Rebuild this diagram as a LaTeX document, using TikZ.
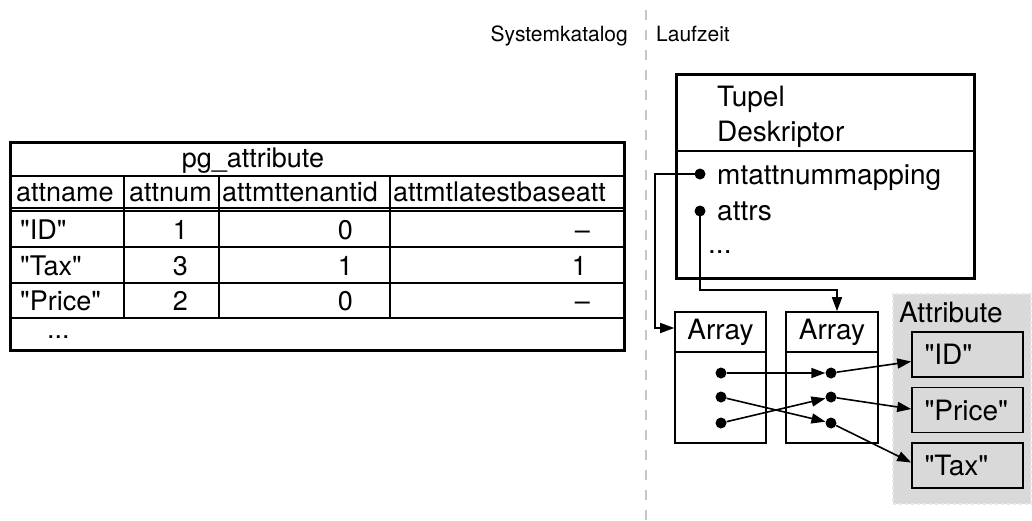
\documentclass[tikz,border=0pt]{standalone}
\usepackage{fontspec}
\newfontfamily\hv{TeX Gyre Heros}
\usetikzlibrary{arrows.meta}
\begin{document}
\begin{tikzpicture}[x=1pt,y=-1pt,
  tl/.style={line width=1.6pt},
  thick border/.style={line width=3pt},
  lbl/.style={inner sep=0pt,font=\hv\fontsize{21}{25}\selectfont},
  ttxt/.style={inner sep=0pt,font=\hv\fontsize{27}{31}\selectfont},
  dtxt/.style={inner sep=0pt,font=\hv\fontsize{28}{33}\selectfont},
  dot/.style={circle,fill=black,inner sep=0pt,minimum size=11pt},
  abox/.style={draw,tl,fill=white,inner sep=0pt,font=\hv\fontsize{28}{33}\selectfont},
  attrbox/.style={draw,tl,fill=gray!30,minimum width=111pt,minimum height=45pt,
    text width=86pt,inner xsep=12.5pt,inner ysep=0pt,align=left,
    font=\hv\fontsize{28}{33}\selectfont},
  panel/.style={fill=gray!30,draw=gray!18,line width=1.5pt,dashed,inner sep=0pt},
  arr/.style={tl,-{Triangle[length=14pt,width=10pt]}},
  ln/.style={tl}
]
\useasboundingbox (0,0) rectangle (1032,520);

% separator between catalogue and runtime
\draw[gray!45,line width=2pt,dash pattern=on 10pt off 10pt] (646,10) -- (646,520);
\node[lbl,anchor=base east] (sk) at (628,41) {Systemkatalog};
\node[lbl,anchor=base west] (lz) at (656,41) {Laufzeit};

% ---------- pg_attribute table ----------
\draw[tl] (10,176) -- (624,176);
\draw[tl] (10,208) -- (624,208);
\draw[tl] (10,211) -- (624,211);
\draw[tl] (10,247) -- (624,247);
\draw[tl] (10,283) -- (624,283);
\draw[tl] (10,318) -- (624,318);
\draw[tl] (124,176) -- (124,318);
\draw[tl] (219,176) -- (219,318);
\draw[tl] (390,176) -- (390,318);
\draw[thick border] (10,142) rectangle (624,350);

\node[ttxt,anchor=base] (title) at (253,167) {pg\_attribute};
\node[ttxt,anchor=base west] (h1) at (16,201) {attname};
\node[ttxt,anchor=base west] (h2) at (129,201) {attnum};
\node[ttxt,anchor=base west] (h3) at (222,201) {attmttenantid};
\node[ttxt,anchor=base west] (h4) at (393,201) {attmtlatestbaseatt};

\node[ttxt,anchor=base west] (r1a) at (20,239) {"ID"};
\node[ttxt,anchor=base east] (r1b) at (188,239) {1};
\node[ttxt,anchor=base east] (r1c) at (353,239) {0};
\node[ttxt,anchor=base east] (r1d) at (590,239) {\textendash};

\node[ttxt,anchor=base west] (r2a) at (20,275) {"Tax"};
\node[ttxt,anchor=base east] (r2b) at (188,275) {3};
\node[ttxt,anchor=base east] (r2c) at (353,275) {1};
\node[ttxt,anchor=base east] (r2d) at (587,275) {1};

\node[ttxt,anchor=base west] (r3a) at (20,310) {"Price"};
\node[ttxt,anchor=base east] (r3b) at (188,310) {2};
\node[ttxt,anchor=base east] (r3c) at (353,310) {0};
\node[ttxt,anchor=base east] (r3d) at (590,310) {\textendash};

\node[ttxt,anchor=base west] (r4a) at (47,338) {...};

% ---------- Tupel Deskriptor ----------
\node[draw,line width=3.2pt,minimum width=298pt,minimum height=204pt,inner sep=0pt,anchor=north west] (tup) at (675,73) {};
\draw[tl] (675,151) -- (973,151);
\node[dtxt,anchor=base west] (tup1) at (717,106) {Tupel};
\node[dtxt,anchor=base west] (tup2) at (717,141) {Deskriptor};
\node[dtxt,anchor=base west] (f1) at (717,184) {mtattnummapping};
\node[dtxt,anchor=base west] (f2) at (717,220) {attrs};
\node[dtxt,anchor=base west] (f3) at (708,253) {...};

% ---------- Arrays ----------
\node[abox,minimum width=91pt,minimum height=40pt] (a1h) at (720.5,332) {Array};
\node[abox,minimum width=91pt,minimum height=91pt] (a1b) at (720.5,397.5) {};
\node[abox,minimum width=92pt,minimum height=40pt] (a2h) at (832,332) {Array};
\node[abox,minimum width=92pt,minimum height=91pt] (a2b) at (832,397.5) {};

% ---------- Attribute panel ----------
\node[panel,minimum width=138pt,minimum height=210pt,anchor=north west] (pan) at (892,293) {};
\node[dtxt,anchor=base west] (attl) at (899,322) {Attribute};
\node[attrbox] (id) at (967.5,354.5) {"ID"};
\node[attrbox] (price) at (967.5,410) {"Price"};
\node[attrbox] (tax) at (967.5,465.5) {"Tax"};

% ---------- connectors ----------
\coordinate (lx) at (655,0);
\coordinate (by) at (0,290);
\node[dot] (m1) at (700,174) {};
\node[dot] (m2) at (700,211) {};
\draw[arr] (m1.center) -- (m1.center -| lx) |- ([yshift=4pt]a1h.west);
\draw[arr] (m2.center) -- (m2.center |- by) -| ([xshift=5pt]a2h.north);

\node[dot] (a1d1) at (721,373) {};
\node[dot] (a1d2) at (721,397) {};
\node[dot] (a1d3) at (721,423) {};
\node[dot] (a2d1) at (831,373) {};
\node[dot] (a2d2) at (831,397) {};
\node[dot] (a2d3) at (831,423) {};

\draw[arr] (a1d1) -- (a2d1);
\draw[arr] (a1d2) -- (a2d3);
\draw[arr] (a1d3) -- (a2d2);
\draw[arr] (a2d1) -- ([yshift=-7pt]id.west);
\draw[arr] (a2d2) -- ([yshift=1pt]price.west);
\draw[arr] (a2d3) -- ([yshift=3pt]tax.west);
\end{tikzpicture}
\end{document}
